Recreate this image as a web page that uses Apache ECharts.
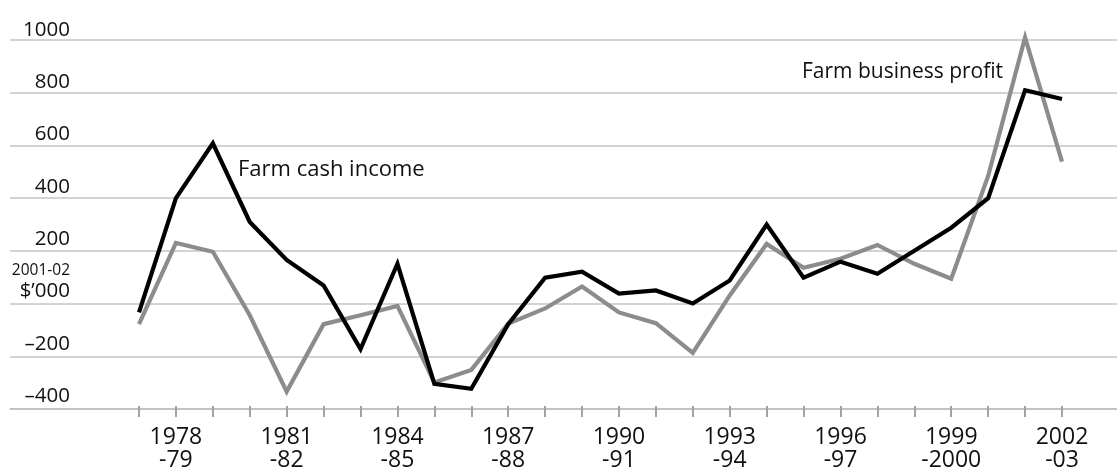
<!DOCTYPE html>
<html>
<head>
<meta charset="utf-8">
<script src="https://cdn.jsdelivr.net/npm/echarts@6/dist/echarts.min.js"></script>
<style>
html,body{margin:0;padding:0;background:#fff;}
#chart{width:1117px;height:472px;}
</style>
</head>
<body>
<div id="chart"></div>
<script>
const categories = ['1977-78','1978-79','1979-80','1980-81','1981-82','1982-83','1983-84','1984-85','1985-86','1986-87','1987-88','1988-89','1989-90','1990-91','1991-92','1992-93','1993-94','1994-95','1995-96','1996-97','1997-98','1998-99','1999-2000','2000-01','2001-02','2002-03'];
const farmCashIncome = [-42, 395, 605, 304, 159, 61, -182, 144, -315, -334, -87, 91, 114, 30, 42, -8, 80, 294, 91, 152, 106, 194, 282, 395, 808, 774];
const farmBusinessProfit = [-87, 224, 190, -53, -345, -87, -53, -17, -310, -262, -85, -27, 57, -42, -83, -197, 23, 220, 129, 163, 216, 144, 87, 480, 1010, 535];
const yTicks = [-400, -200, 0, 200, 400, 600, 800, 1000];
const zeroLabel = ['2001-02', '$\u2019000'];
const seriesNames = ['Farm cash income', 'Farm business profit'];

const FONT = 'Open Sans';
const chart = echarts.init(document.getElementById('chart'), null, {renderer:'canvas'});
const yMin = yTicks[0], yMax = yTicks[yTicks.length-1], yStep = yTicks[1]-yTicks[0];

chart.setOption({
  animation:false,
  backgroundColor:'#fff',
  textStyle:{fontFamily:FONT},
  grid:[
    {left:10, right:0, top:40, bottom:63},
    {left:139, right:55, top:40, bottom:63}
  ],
  xAxis:[
    {gridIndex:0, type:'value', min:0, max:1, axisLine:{show:true, onZero:false, lineStyle:{color:'#bdbdbd', width:1.5}},
     axisTick:{show:false}, axisLabel:{show:false}, splitLine:{show:false}},
    {gridIndex:1, type:'category', data:categories, boundaryGap:false, position:'bottom',
     axisLine:{show:false, onZero:false},
     axisTick:{show:true, interval:0, length:11, lineStyle:{color:'#a3a3a3', width:2}},
     axisLabel:{interval:function(i){return (i-1)%3===0;}, fontFamily:FONT, fontSize:23, lineHeight:23, color:'#111', margin:20,
       formatter:function(v){return v.replace('-', '\n-');}},
     splitLine:{show:false}}
  ],
  yAxis:[
    {gridIndex:0, type:'value', min:yMin, max:yMax, interval:yStep,
     axisLine:{show:false}, axisTick:{show:false}, axisLabel:{show:false},
     splitLine:{show:true, lineStyle:{color:'#c4c4c4', width:1.5}}},
    {gridIndex:1, type:'value', min:yMin, max:yMax, interval:yStep,
     axisLine:{show:false}, axisTick:{show:false}, splitLine:{show:false},
     axisLabel:{margin:69, fontFamily:FONT, fontSize:20.5, lineHeight:20, color:'#111', verticalAlign:'bottom',
       formatter:function(v){
         if (v===0) return '{s|'+zeroLabel[0]+'}\n{b|'+zeroLabel[1]+'}';
         return v<0 ? '\u2013'+Math.abs(v) : String(v);
       },
       rich:{
         s:{fontFamily:FONT, fontSize:15.5, lineHeight:21, color:'#111', align:'right'},
         b:{fontFamily:FONT, fontSize:20.5, lineHeight:20, color:'#111', align:'right'}
       }}}
  ],
  series:[
    {name:seriesNames[1], type:'line', xAxisIndex:1, yAxisIndex:1, data:farmBusinessProfit, symbol:'none', clip:false,
     lineStyle:{color:'#8c8c8c', width:4.2, join:'miter'}},
    {name:seriesNames[0], type:'line', xAxisIndex:1, yAxisIndex:1, data:farmCashIncome, symbol:'none', clip:false,
     lineStyle:{color:'#000', width:4.2, join:'miter'}}
  ],
  graphic:[
    {type:'text', left:238, top:159, style:{text:seriesNames[0], fontFamily:FONT, fontSize:22, fill:'#111'}},
    {type:'text', left:802, top:62, style:{text:seriesNames[1], fontFamily:FONT, fontSize:21, fill:'#111'}}
  ]
});
</script>
</body>
</html>
